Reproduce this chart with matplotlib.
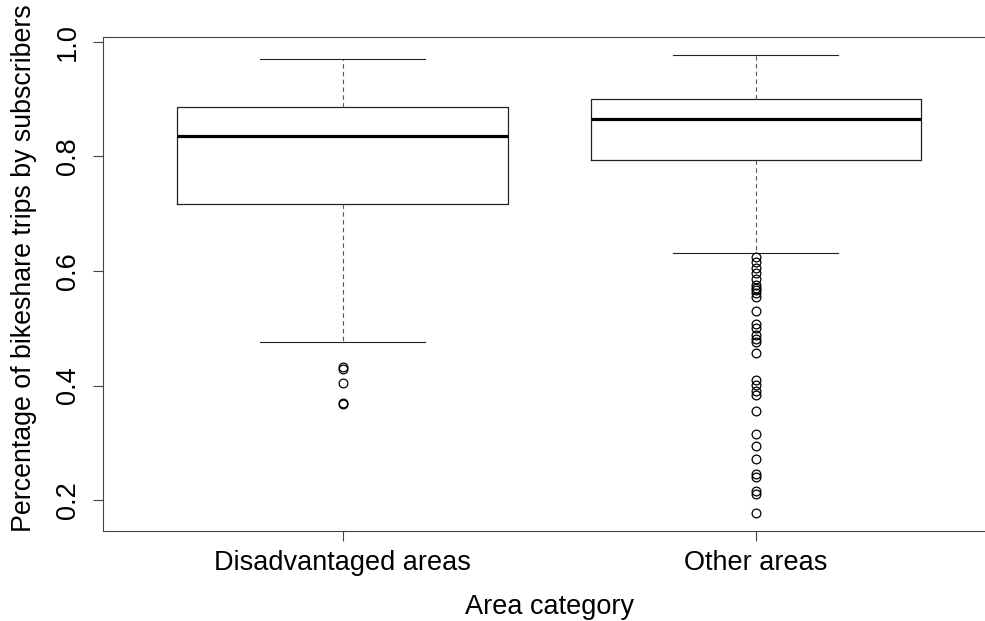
import matplotlib
matplotlib.use('Agg')
import matplotlib.pyplot as plt

plt.rcParams['font.family'] = ['Liberation Sans', 'DejaVu Sans']

# categories and summary stats
categories = ['Disadvantaged areas', 'Other areas']
q1 = [0.717, 0.794]
med = [0.836, 0.866]
q3 = [0.886, 0.900]
whis_lo = [0.476, 0.631]
whis_hi = [0.970, 0.978]

outliers_dis = [0.432, 0.428, 0.405, 0.370, 0.367]
outliers_other = [0.625, 0.615, 0.606, 0.596, 0.586, 0.576, 0.570, 0.566, 0.561,
                  0.554, 0.530, 0.508, 0.500, 0.489, 0.482, 0.476, 0.456,
                  0.410, 0.401, 0.391, 0.384, 0.356, 0.316, 0.295, 0.272,
                  0.246, 0.241, 0.216, 0.211, 0.178]

y_ticks = [0.2, 0.4, 0.6, 0.8, 1.0]

stats = []
fliers = [outliers_dis, outliers_other]
for i, name in enumerate(categories):
    stats.append({'label': name, 'q1': q1[i], 'med': med[i], 'q3': q3[i],
                  'whislo': whis_lo[i], 'whishi': whis_hi[i], 'fliers': fliers[i]})

fig = plt.figure(figsize=(9.85, 6.21), dpi=100)
# right edge of the R plot box is cut off in the original picture
ax = fig.add_axes([103 / 985, (621 - 530.7) / 621, (995.5 - 103) / 985, (530.7 - 37) / 621])

lc = '#222222'
ax.bxp(stats, positions=[1, 2], widths=0.8, capwidths=0.4, patch_artist=False,
       boxprops=dict(color=lc, linewidth=0.9),
       medianprops=dict(color='black', linewidth=2.3, solid_capstyle='butt'),
       whiskerprops=dict(color='#555555', linewidth=0.8, linestyle=(0, (4, 3))),
       capprops=dict(color=lc, linewidth=0.8),
       flierprops=dict(marker='o', markerfacecolor='none', markeredgecolor='black',
                       markersize=6.3, markeredgewidth=0.9, linestyle='none'))

ax.set_xlim(0.42, 2.58)
ax.set_ylim(0.1464, 1.0087)

ax.set_yticks(y_ticks)
ax.set_yticklabels([f'{t:.1f}' for t in y_ticks], rotation=90, va='center')
ax.set_xticks([1, 2])
ax.set_xticklabels(categories)

ax.tick_params(axis='both', direction='out', length=7, width=0.8, color='#444444',
               labelsize=19.5, labelcolor='black')
ax.tick_params(axis='y', pad=9)
ax.tick_params(axis='x', pad=7)

for s in ax.spines.values():
    s.set_color('#444444')
    s.set_linewidth(0.8)

ax.set_xlabel('Area category', fontsize=19.5, labelpad=13)
ax.set_ylabel('Percentage of bikeshare trips by subscribers', fontsize=19.3)
ax.yaxis.set_label_coords(-0.0735, 0.532)

fig.savefig('out.png', dpi=100)
